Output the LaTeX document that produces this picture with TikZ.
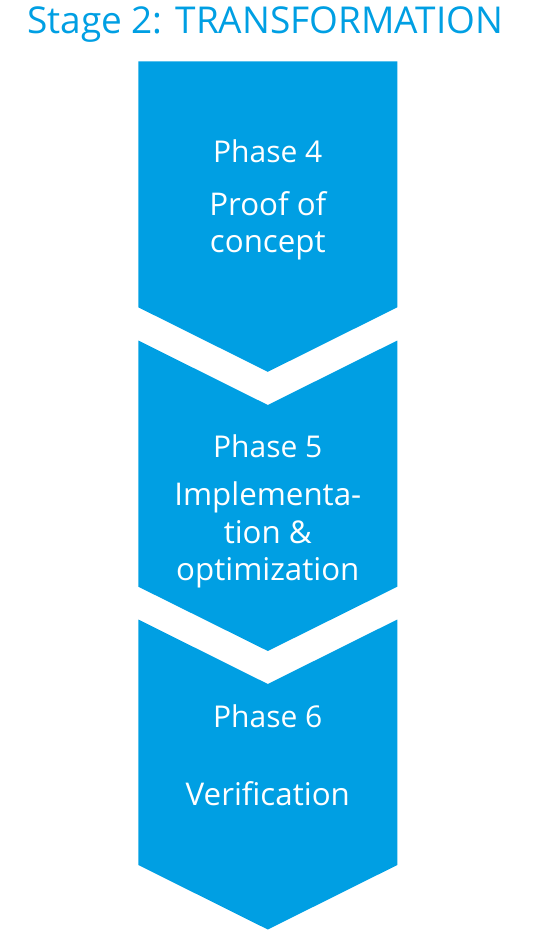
\documentclass[tikz,border=0pt]{standalone}
\usepackage{fontspec}
\setmainfont{Open Sans}
\definecolor{stageblue}{HTML}{009FE3}
\begin{document}
\begin{tikzpicture}[x=1pt,y=-1pt,
  chev/.style={fill=stageblue,draw=none},
  phase/.style={text=white,anchor=base,font=\fontsize{30}{36}\selectfont},
  main/.style={text=white,anchor=base,font=\fontsize{31.3}{37.5}\selectfont,align=center},
  title/.style={text=stageblue,anchor=base west,font=\fontsize{37}{44}\selectfont,inner sep=0pt}]
\useasboundingbox (0,0) rectangle (537,930);
% chevrons
\path[chev] (138.3,61.3) -- (397.3,61.3) -- (397.3,307.3) -- (267.8,371.8) -- (138.3,307.3) -- cycle;
\path[chev] (138.3,340.5) -- (267.8,405) -- (397.3,340.5) -- (397.3,586.7) -- (267.8,651) -- (138.3,586.7) -- cycle;
\path[chev] (138.3,619.5) -- (267.8,684) -- (397.3,619.5) -- (397.3,865) -- (267.8,929.5) -- (138.3,865) -- cycle;
% title
\node[title] (t) at (27,33.3) {Stage 2: TRANSFORMATION};
% texts
\node[phase] (p4) at (267.8,162.7) {Phase 4};
\node[main] (m4a) at (267.8,215) {Proof of};
\node[main] (m4b) at (267.8,252) {concept};
\node[phase] (p5) at (267.8,457.3) {Phase 5};
\node[main] (m5a) at (267.8,505.5) {Implementa-};
\node[main] (m5b) at (267.8,543) {tion \&};
\node[main] (m5c) at (267.8,580.5) {optimization};
\node[phase] (p6) at (267.8,727.7) {Phase 6};
\node[main] (m6) at (267.8,805) {Verification};
\end{tikzpicture}
\end{document}
